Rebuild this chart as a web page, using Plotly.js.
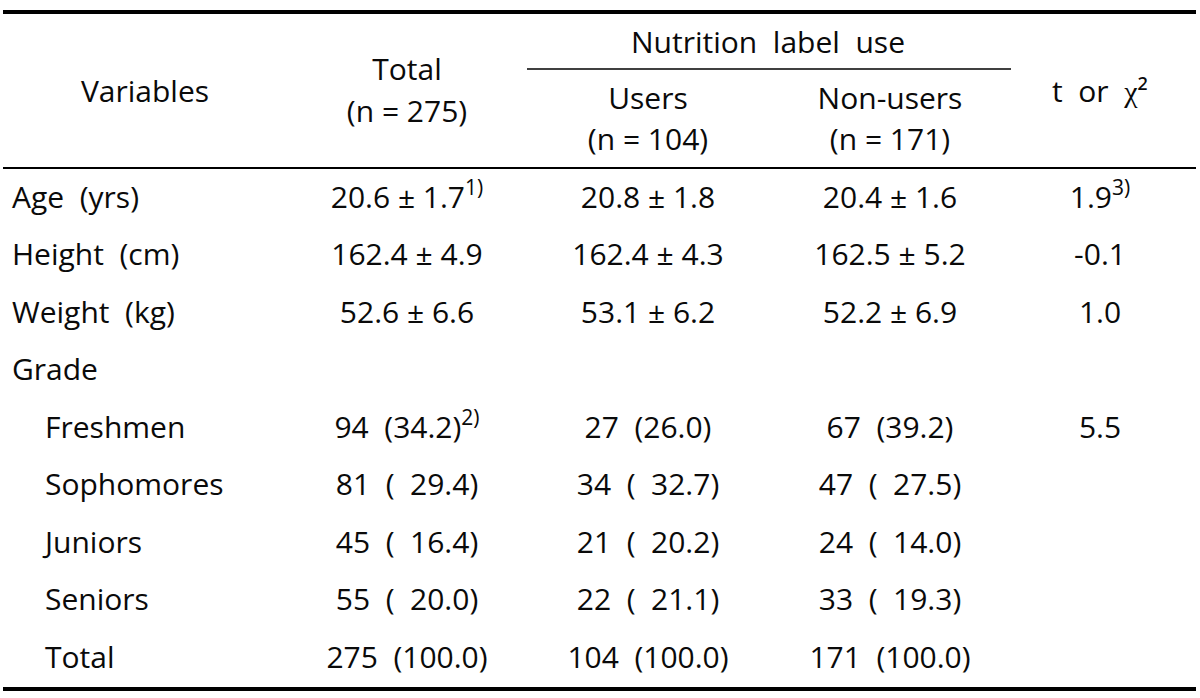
<!DOCTYPE html>
<html>
<head>
<meta charset="utf-8">
<script src="https://cdn.plot.ly/plotly-3.0.1.min.js"></script>
<style>html,body{margin:0;padding:0;background:#fff;}#chart{width:1200px;height:698px;}</style>
</head>
<body>
<div id="chart"></div>
<script>
// ---------- data ----------
const contVariables = ['Age\u00a0\u00a0(yrs)', 'Height\u00a0\u00a0(cm)', 'Weight\u00a0\u00a0(kg)'];
const totalMean = [20.6, 162.4, 52.6];
const totalSD = [1.7, 4.9, 6.6];
const usersMean = [20.8, 162.4, 53.1];
const usersSD = [1.8, 4.3, 6.2];
const nonUsersMean = [20.4, 162.5, 52.2];
const nonUsersSD = [1.6, 5.2, 6.9];
const tValues = [1.9, -0.1, 1.0];

const gradeHeader = 'Grade';
const gradeNames = ['Freshmen', 'Sophomores', 'Juniors', 'Seniors', 'Total'];
const totalN = [94, 81, 45, 55, 275];
const totalPct = [34.2, 29.4, 16.4, 20.0, 100.0];
const usersN = [27, 34, 21, 22, 104];
const usersPct = [26.0, 32.7, 20.2, 21.1, 100.0];
const nonUsersN = [67, 47, 24, 33, 171];
const nonUsersPct = [39.2, 27.5, 14.0, 19.3, 100.0];
const chiSquare = [5.5, null, null, null, null];

const headerVariables = 'Variables';
const headerTotal = ['Total', '(n = 275)'];
const headerGroup = 'Nutrition\u00a0\u00a0label\u00a0\u00a0use';
const headerUsers = ['Users', '(n = 104)'];
const headerNonUsers = ['Non-users', '(n = 171)'];
const headerStat = 't\u00a0\u00a0or\u00a0\u00a0<span style="font-family:\'Liberation Serif\',serif;font-weight:400">\u03c7</span>\u00b2';

// ---------- layout constants (pixel-unit axes) ----------
const FONT = "'Open Sans', 'Noto Sans', sans-serif";
const FS = 30;
const FW = 500;
const COLOR = '#0a0a0a';
const colX = {label: 12, sub: 45, total: 407, users: 648, non: 890, stat: 1100};
const rowY0 = 200, rowStep = 57.5;
const rowY = i => rowY0 + i * rowStep;

const sup = s => '<sup>' + s + '</sup>';
const fmtMS = (m, s) => m.toFixed(1) + '\u00a0\u00b1\u00a0' + s.toFixed(1);
const fmtNP = (n, p, i) => n + '\u00a0\u00a0(' + ((i > 0 && p < 100) ? '\u00a0\u00a0' : '') + p.toFixed(1) + ')';

const traces = [];
function textTrace(xs, ys, texts, pos) {
  traces.push({
    type: 'scatter', mode: 'text', x: xs, y: ys, text: texts,
    textposition: pos || 'middle center', hoverinfo: 'skip', showlegend: false,
    textfont: {family: FONT, size: FS, color: COLOR, weight: FW}, cliponaxis: false
  });
}

// row labels
const labelTexts = contVariables.concat([gradeHeader]);
textTrace(labelTexts.map(() => colX.label), labelTexts.map((_, i) => rowY(i)), labelTexts, 'middle right');
textTrace(gradeNames.map(() => colX.sub), gradeNames.map((_, i) => rowY(i + 4)), gradeNames, 'middle right');

// continuous rows
const tot = contVariables.map((_, i) => fmtMS(totalMean[i], totalSD[i]) + (i === 0 ? sup('1)') : ''));
const usr = contVariables.map((_, i) => fmtMS(usersMean[i], usersSD[i]));
const non = contVariables.map((_, i) => fmtMS(nonUsersMean[i], nonUsersSD[i]));
const tv = tValues.map((v, i) => v.toFixed(1) + (i === 0 ? sup('3)') : ''));
const cy = contVariables.map((_, i) => rowY(i));
textTrace(cy.map(() => colX.total), cy, tot);
textTrace(cy.map(() => colX.users), cy, usr);
textTrace(cy.map(() => colX.non), cy, non);
textTrace(cy.map(() => colX.stat), cy, tv);

// grade rows
const gy = gradeNames.map((_, i) => rowY(i + 4));
textTrace(gy.map(() => colX.total), gy, gradeNames.map((_, i) => fmtNP(totalN[i], totalPct[i], i) + (i === 0 ? sup('2)') : '')));
textTrace(gy.map(() => colX.users), gy, gradeNames.map((_, i) => fmtNP(usersN[i], usersPct[i], i)));
textTrace(gy.map(() => colX.non), gy, gradeNames.map((_, i) => fmtNP(nonUsersN[i], nonUsersPct[i], i)));
const csIdx = chiSquare.map((v, i) => i).filter(i => chiSquare[i] !== null);
textTrace(csIdx.map(() => colX.stat), csIdx.map(i => gy[i]), csIdx.map(i => chiSquare[i].toFixed(1)));

// headers
textTrace([145], [94], [headerVariables]);
textTrace([colX.total, colX.total], [72, 114], headerTotal);
textTrace([768], [45], [headerGroup]);
textTrace([colX.users, colX.users], [101, 142], headerUsers);
textTrace([colX.non, colX.non], [101, 142], headerNonUsers);
textTrace([colX.stat], [94], [headerStat]);

const line = (x0, x1, y, w) => ({type: 'line', xref: 'x', yref: 'y', x0: x0, x1: x1, y0: y, y1: y, line: {color: '#000', width: w}});

const layout = {
  width: 1200, height: 698,
  margin: {l: 0, r: 0, t: 0, b: 0, pad: 0},
  paper_bgcolor: '#fff', plot_bgcolor: '#fff',
  xaxis: {range: [0, 1200], visible: false, fixedrange: true},
  yaxis: {range: [698, 0], visible: false, fixedrange: true},
  shapes: [
    line(3, 1196, 12, 4),
    line(527, 1011, 69, 1.5),
    line(3, 1196, 168, 2),
    line(3, 1196, 689, 4)
  ],
  showlegend: false
};

Plotly.newPlot('chart', traces, layout, {staticPlot: true, displayModeBar: false});
</script>
</body>
</html>
